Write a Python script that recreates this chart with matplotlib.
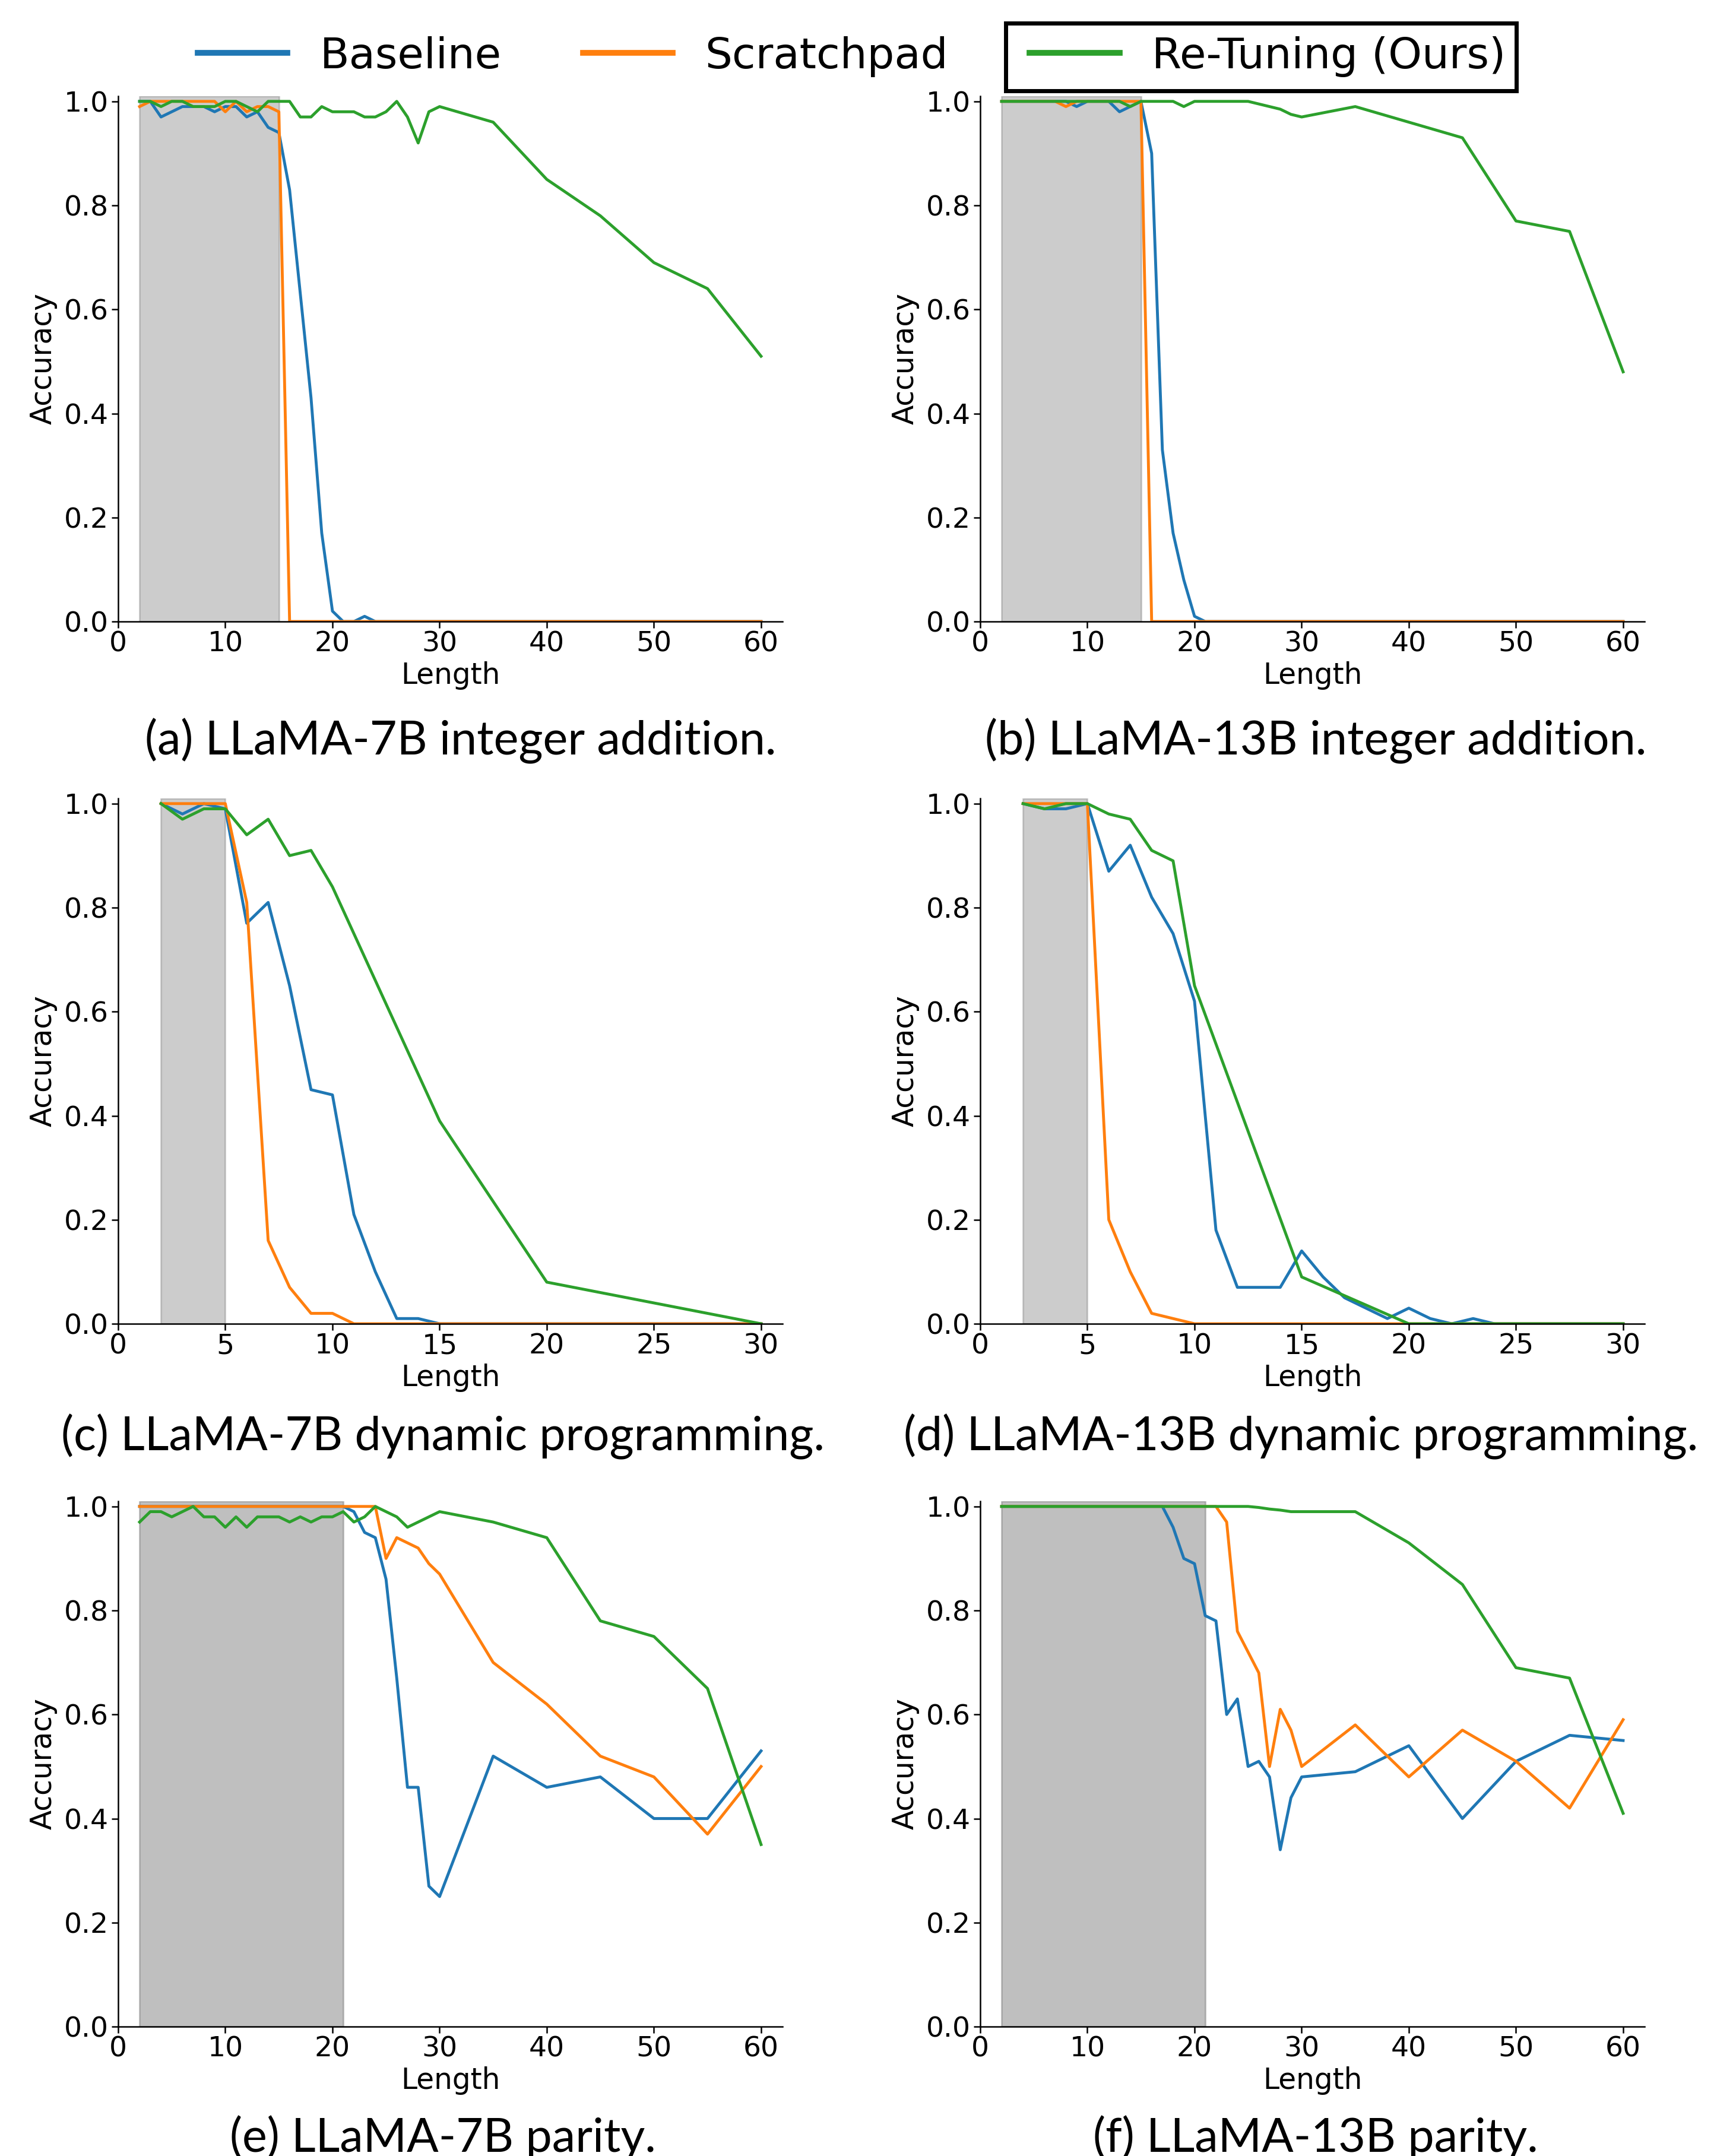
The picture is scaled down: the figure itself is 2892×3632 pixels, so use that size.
import matplotlib
matplotlib.use("Agg")
import matplotlib.pyplot as plt
from matplotlib.lines import Line2D
from matplotlib.patches import Rectangle

# ---- dados ----
METODOS = ["Baseline", "Scratchpad", "Re-Tuning (Ours)"]
CORES = ["tab:blue", "tab:orange", "tab:green"]

len_add = list(range(2, 31)) + [35, 40, 45, 50, 55, 60]
len_dp = list(range(2, 31))
len_dp_rt = [2, 3, 4, 5, 6, 7, 8, 9, 10, 15, 20, 30]
len_par = list(range(2, 31)) + [35, 40, 45, 50, 55, 60]

# (a) LLaMA-7B integer addition
base_a = [1.0, 1.0, 0.97, 0.98, 0.99, 0.99, 0.99, 0.98, 0.99, 0.99, 0.97, 0.98, 0.95, 0.94,
          0.83, 0.63, 0.43, 0.17, 0.02, 0.0, 0.0, 0.01, 0, 0, 0, 0, 0, 0, 0,
          0, 0, 0, 0, 0, 0]
scratch_a = [0.99, 1.0, 1.0, 1.0, 1.0, 1.0, 1.0, 1.0, 0.98, 1.0, 0.98, 0.99, 0.99, 0.98,
             0, 0, 0, 0, 0, 0, 0, 0, 0, 0, 0, 0, 0, 0, 0,
             0, 0, 0, 0, 0, 0]
retune_a = [1.0, 1.0, 0.99, 1.0, 1.0, 0.99, 0.99, 0.99, 1.0, 1.0, 0.99, 0.98, 1.0, 1.0,
            1.0, 0.97, 0.97, 0.99, 0.98, 0.98, 0.98, 0.97, 0.97, 0.98, 1.0, 0.97, 0.92, 0.98, 0.99,
            0.96, 0.85, 0.78, 0.69, 0.64, 0.51]

# (b) LLaMA-13B integer addition
base_b = [1.0, 1.0, 1.0, 1.0, 1.0, 1.0, 1.0, 0.99, 1.0, 1.0, 1.0, 0.98, 0.99, 1.0,
          0.90, 0.33, 0.17, 0.08, 0.01, 0, 0, 0, 0, 0, 0, 0, 0, 0, 0,
          0, 0, 0, 0, 0, 0]
scratch_b = [1.0, 1.0, 1.0, 1.0, 1.0, 1.0, 0.99, 1.0, 1.0, 1.0, 1.0, 1.0, 1.0, 1.0,
             0, 0, 0, 0, 0, 0, 0, 0, 0, 0, 0, 0, 0, 0, 0,
             0, 0, 0, 0, 0, 0]
retune_b = [1.0, 1.0, 1.0, 1.0, 1.0, 1.0, 1.0, 1.0, 1.0, 1.0, 1.0, 1.0, 0.99, 1.0,
            1.0, 1.0, 1.0, 0.99, 1.0, 1.0, 1.0, 1.0, 1.0, 1.0, 0.995, 0.99, 0.985, 0.975, 0.97,
            0.99, 0.96, 0.93, 0.77, 0.75, 0.48]

# (c) LLaMA-7B dynamic programming
base_c = [1.0, 0.98, 1.0, 0.99, 0.77, 0.81, 0.65, 0.45, 0.44, 0.21, 0.10, 0.01, 0.01,
          0, 0, 0, 0, 0, 0, 0, 0, 0, 0, 0, 0, 0, 0, 0, 0]
scratch_c = [1.0, 1.0, 1.0, 1.0, 0.81, 0.16, 0.07, 0.02, 0.02,
             0, 0, 0, 0, 0, 0, 0, 0, 0, 0, 0, 0, 0, 0, 0, 0, 0, 0, 0, 0]
retune_c = [1.0, 0.97, 0.99, 0.99, 0.94, 0.97, 0.90, 0.91, 0.84, 0.39, 0.08, 0.0]

# (d) LLaMA-13B dynamic programming
base_d = [1.0, 0.99, 0.99, 1.0, 0.87, 0.92, 0.82, 0.75, 0.62, 0.18, 0.07, 0.07, 0.07,
          0.14, 0.09, 0.05, 0.03, 0.01, 0.03, 0.01, 0.0, 0.01, 0.0, 0, 0, 0, 0, 0, 0]
scratch_d = [1.0, 1.0, 1.0, 1.0, 0.20, 0.10, 0.02, 0.01,
             0, 0, 0, 0, 0, 0, 0, 0, 0, 0, 0, 0, 0, 0, 0, 0, 0, 0, 0, 0, 0]
retune_d = [1.0, 0.99, 1.0, 1.0, 0.98, 0.97, 0.91, 0.89, 0.65, 0.09, 0.0, 0.0]

# (e) LLaMA-7B parity
base_e = [1.0] * 20 + [0.99, 0.95, 0.94, 0.86, 0.67, 0.46, 0.46, 0.27, 0.25,
                       0.52, 0.46, 0.48, 0.40, 0.40, 0.53]
scratch_e = [1.0] * 23 + [0.90, 0.94, 0.93, 0.92, 0.89, 0.87,
                          0.70, 0.62, 0.52, 0.48, 0.37, 0.50]
retune_e = [0.97, 0.99, 0.99, 0.98, 0.99, 1.0, 0.98, 0.98, 0.96, 0.98, 0.96, 0.98, 0.98, 0.98,
            0.97, 0.98, 0.97, 0.98, 0.98, 0.99, 0.97, 0.98, 1.0, 0.99, 0.98, 0.96, 0.97, 0.98, 0.99,
            0.97, 0.94, 0.78, 0.75, 0.65, 0.35]

# (f) LLaMA-13B parity
base_f = [1.0] * 16 + [0.96, 0.90, 0.89, 0.79, 0.78, 0.60, 0.63, 0.50, 0.51, 0.48, 0.34, 0.44, 0.48,
                       0.49, 0.54, 0.40, 0.51, 0.56, 0.55]
scratch_f = [1.0] * 21 + [0.97, 0.76, 0.72, 0.68, 0.50, 0.61, 0.57, 0.50,
                          0.58, 0.48, 0.57, 0.51, 0.42, 0.59]
retune_f = [1.0] * 24 + [0.998, 0.995, 0.993, 0.99, 0.99,
                         0.99, 0.93, 0.85, 0.69, 0.67, 0.41]

# regiao de treino (sombreada)
treino_add = (2, 15)
treino_dp = (2, 5)
treino_par = (2, 21)

LEGENDAS = [
    "(a) LLaMA-7B integer addition.",
    "(b) LLaMA-13B integer addition.",
    "(c) LLaMA-7B dynamic programming.",
    "(d) LLaMA-13B dynamic programming.",
    "(e) LLaMA-7B parity.",
    "(f) LLaMA-13B parity.",
]

W, H = 2892, 3632
fig = plt.figure(figsize=(W / 100, H / 100), dpi=100)

paineis = [
    (len_add, [base_a, scratch_a, retune_a], len_add, treino_add, 0.4, 62, range(0, 61, 10)),
    (len_add, [base_b, scratch_b, retune_b], len_add, treino_add, 0.4, 62, range(0, 61, 10)),
    (len_dp, [base_c, scratch_c, retune_c], len_dp_rt, treino_dp, 0.4, 31, range(0, 31, 5)),
    (len_dp, [base_d, scratch_d, retune_d], len_dp_rt, treino_dp, 0.4, 31, range(0, 31, 5)),
    (len_par, [base_e, scratch_e, retune_e], len_par, treino_par, 0.5, 62, range(0, 61, 10)),
    (len_par, [base_f, scratch_f, retune_f], len_par, treino_par, 0.5, 62, range(0, 61, 10)),
]

lefts = [199 / W, 1651 / W]
largura = 1119 / W
altura = 885 / H
bottoms = [1 - 1047 / H, 1 - 2230 / H, 1 - 3414 / H]
caption_y = [1 - 1271 / H, 1 - 2443 / H, 1 - 3625 / H]
# centro de cada legenda (a..f), em pixels
caption_x = [776, 2216, 746, 2191, 746, 2216]

for i, (xs, series, xs_rt, treino, alfa, xmax, xt) in enumerate(paineis):
    lin, col = divmod(i, 2)
    ax = fig.add_axes([lefts[col], bottoms[lin], largura, altura])
    ax.axvspan(treino[0], treino[1], color="gray", alpha=alfa, lw=2)
    for k, ys in enumerate(series):
        xx = xs_rt if k == 2 else xs
        ax.plot(xx, ys, color=CORES[k], lw=3.5, label=METODOS[k])
    ax.set_xlim(0, xmax)
    ax.set_ylim(0, 1.01)
    ax.set_xticks(list(xt))
    ax.set_yticks([0.0, 0.2, 0.4, 0.6, 0.8, 1.0])
    ax.set_yticklabels(["0.0", "0.2", "0.4", "0.6", "0.8", "1.0"])
    ax.spines["top"].set_visible(False)
    ax.spines["right"].set_visible(False)
    for s in ["left", "bottom"]:
        ax.spines[s].set_linewidth(1.8)
    ax.tick_params(labelsize=34, length=8, width=1.8)
    ax.set_xlabel("Length", fontsize=35)
    ax.set_ylabel("Accuracy", fontsize=35, labelpad=8)
    fig.text(caption_x[i] / W, caption_y[lin], LEGENDAS[i],
             ha="center", va="baseline", fontsize=57, family="Lato")

handles = [Line2D([0], [0], color=c, lw=7) for c in CORES]
leg = fig.legend(handles, METODOS, loc="center", ncol=3, frameon=False,
                 bbox_to_anchor=(0.496, 1 - 95 / H), fontsize=52,
                 handlelength=2.1, columnspacing=1.9, handletextpad=0.75)

# caixa em volta do terceiro item da legenda
fig.canvas.draw()
inv = fig.transFigure.inverted()
bb_txt = leg.get_texts()[2].get_window_extent()
bb_lin = leg.get_lines()[2].get_window_extent()
x0 = bb_lin.x0 - 40
x1 = bb_txt.x1 + 18
ym = (bb_txt.y0 + bb_txt.y1) / 2
y0 = ym - 58
y1 = ym + 56
(fx0, fy0) = inv.transform((x0, y0))
(fx1, fy1) = inv.transform((x1, y1))
fig.patches.append(Rectangle((fx0, fy0), fx1 - fx0, fy1 - fy0, transform=fig.transFigure,
                             fill=False, edgecolor="black", lw=5))

fig.savefig("out.png", dpi=100)
